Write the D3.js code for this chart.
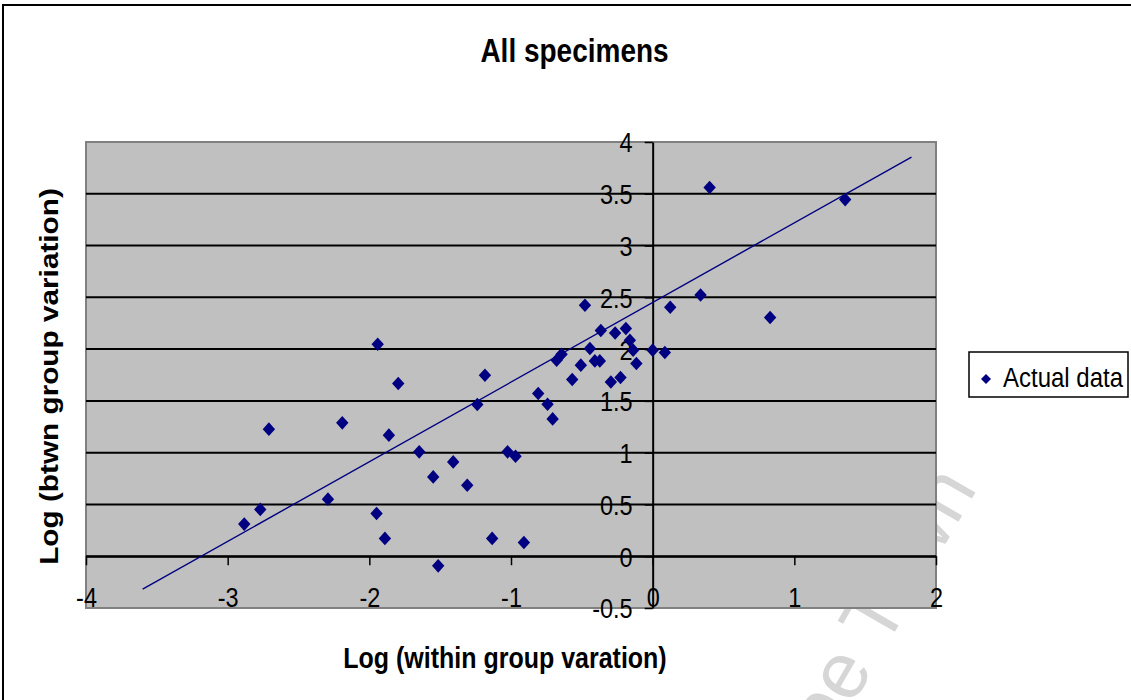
<!DOCTYPE html>
<html><head><meta charset="utf-8">
<script src="https://cdn.jsdelivr.net/npm/d3@7"></script>
<style>body{margin:0;background:#fff;} svg{display:block;}</style>
</head><body>
<script>
const chartTitle = "All specimens";
const xTitle = "Log (within group varation)";
const yTitle = "Log (btwn group variation)";
const seriesName = "Actual data";
const watermarkText = "Cape Town";

const xValues = [-2.883,-2.770,-2.709,-2.292,-2.191,-1.949,-1.941,-1.890,-1.862,-1.796,
  -1.648,-1.549,-1.514,-1.408,-1.309,-1.238,-1.184,-1.133,-1.024,-0.968,
  -0.909,-0.808,-0.742,-0.706,-0.678,-0.643,-0.568,-0.507,-0.478,-0.443,
  -0.408,-0.373,-0.366,-0.295,-0.265,-0.227,-0.189,-0.161,-0.138,-0.115,
  0.000,0.086,0.124,0.338,0.402,0.829,1.359];
const yValues = [0.310,0.452,1.227,0.551,1.288,0.413,2.047,0.172,1.169,1.668,
  1.008,0.766,-0.093,0.911,0.686,1.465,1.748,0.172,1.008,0.966,
  0.133,1.571,1.468,1.326,1.893,1.951,1.707,1.845,2.424,2.006,
  1.886,1.886,2.180,1.683,2.156,1.726,2.199,2.086,1.990,1.861,
  1.990,1.967,2.404,2.523,3.560,2.305,3.444];

const trendX = [-3.6, 1.827];
const trendY = [-0.318, 3.855];

const xTicks = [-4,-3,-2,-1,0,1,2];
const yTicks = [-0.5,0,0.5,1,1.5,2,2.5,3,3.5,4];
const gridValues = [0,0.5,1,1.5,2,2.5,3,3.5];

const W = 1131, H = 700;
const K = 1.18;               // vertical stretch of the original picture's text
const FONT = "'Liberation Sans', Arial, Helvetica, sans-serif";
const NAVY = "#000080";

const svg = d3.select("body").append("svg").attr("width", W).attr("height", H);

const plot = {left: 86, right: 936, top: 142, bottom: 608};
const x = d3.scaleLinear().domain([-4, 2]).range([plot.left, plot.right]);
const y = d3.scaleLinear().domain([-0.5, 4]).range([plot.bottom, plot.top]);

// background + chart-area border
svg.append("rect").attr("x",0).attr("y",0).attr("width",W).attr("height",H).attr("fill","#fff");
svg.append("rect").attr("x",3).attr("y",5).attr("width",W+20).attr("height",H+20)
  .attr("fill","none").attr("stroke","#000").attr("stroke-width",2);

// watermark
svg.append("text")
  .attr("transform","translate(978,488) rotate(-60)")
  .attr("text-anchor","end")
  .attr("font-family",FONT).attr("font-size",80)
  .attr("fill","#d6d6d6").text(watermarkText);

function htext(str, px, py, size, anchor, bold) {
  svg.append("text")
    .attr("transform", `translate(${px},${py}) scale(1,${K})`)
    .attr("text-anchor", anchor)
    .attr("font-family", FONT).attr("font-size", size)
    .attr("font-weight", bold ? "bold" : "normal")
    .attr("fill", "#000").text(str);
}

// title
htext(chartTitle, 574.5, 62, 28, "middle", true);

// plot area
svg.append("rect")
  .attr("x", plot.left).attr("y", plot.top)
  .attr("width", plot.right - plot.left).attr("height", plot.bottom - plot.top)
  .attr("fill", "#c0c0c0").attr("stroke", "#808080").attr("stroke-width", 2);

// gridlines
svg.append("g").selectAll("line").data(gridValues).join("line")
  .attr("x1", plot.left).attr("x2", plot.right)
  .attr("y1", d => y(d)).attr("y2", d => y(d))
  .attr("stroke", "#000").attr("stroke-width", 2);

const tickSize = 23.5;
const capHalf = 0.716 * tickSize * K / 2;

// y axis (crossing at x = 0)
const yAxis = svg.append("g").attr("transform", `translate(${x(0)},0)`)
  .call(d3.axisLeft(y).tickValues(yTicks).tickSize(8).tickSizeOuter(0)
    .tickFormat(d => String(d)));
yAxis.select(".domain").attr("stroke", "#000").attr("stroke-width", 2);
yAxis.selectAll(".tick line").attr("stroke", "#000").attr("stroke-width", 1.5);
yAxis.selectAll(".tick text")
  .attr("x", 0).attr("dy", null).attr("y", 0)
  .attr("transform", `translate(-20,${capHalf}) scale(1,${K})`)
  .attr("font-family", FONT).attr("font-size", tickSize).attr("fill", "#000");

// x axis (crossing at y = 0)
const xAxis = svg.append("g").attr("transform", `translate(0,${y(0)})`)
  .call(d3.axisBottom(x).tickValues(xTicks).tickSize(9).tickSizeOuter(0)
    .tickFormat(d => String(d)));
xAxis.select(".domain").attr("stroke", "#000").attr("stroke-width", 2);
xAxis.selectAll(".tick line").attr("stroke", "#000").attr("stroke-width", 1.5);
xAxis.selectAll(".tick text")
  .attr("y", 0).attr("dy", null)
  .attr("transform", `translate(0,${41 + capHalf}) scale(1,${K})`)
  .attr("font-family", FONT).attr("font-size", tickSize).attr("fill", "#000");

// trend line
const trend = trendX.map((v, i) => [v, trendY[i]]);
svg.append("path").datum(trend)
  .attr("d", d3.line().x(d => x(d[0])).y(d => y(d[1])))
  .attr("fill", "none").attr("stroke", NAVY).attr("stroke-width", 1.4);

// points
const pts = xValues.map((v, i) => ({x: v, y: yValues[i]}));
const diamond = (cx, cy, w, h) => `M${cx},${cy - h}L${cx + w},${cy}L${cx},${cy + h}L${cx - w},${cy}Z`;
svg.append("g").selectAll("path").data(pts).join("path")
  .attr("d", d => diamond(x(d.x), y(d.y), 6.2, 6.8))
  .attr("fill", NAVY);

// axis titles
htext(xTitle, 505, 668, 25, "middle", true);
svg.append("text")
  .attr("transform", `translate(58,376.5) rotate(-90) scale(${K + 0.01},1)`)
  .attr("text-anchor", "middle")
  .attr("font-family", FONT).attr("font-size", 25).attr("font-weight", "bold")
  .attr("fill", "#000").text(yTitle);

// legend
const lg = svg.append("g");
lg.append("rect").attr("x", 969).attr("y", 352).attr("width", 159).attr("height", 45)
  .attr("fill", "#fff").attr("stroke", "#000").attr("stroke-width", 1.5);
lg.append("path").attr("d", diamond(986, 379, 5, 5)).attr("fill", NAVY);
htext(seriesName, 1003, 386.5, 24, "start", false);
</script>
</body></html>
